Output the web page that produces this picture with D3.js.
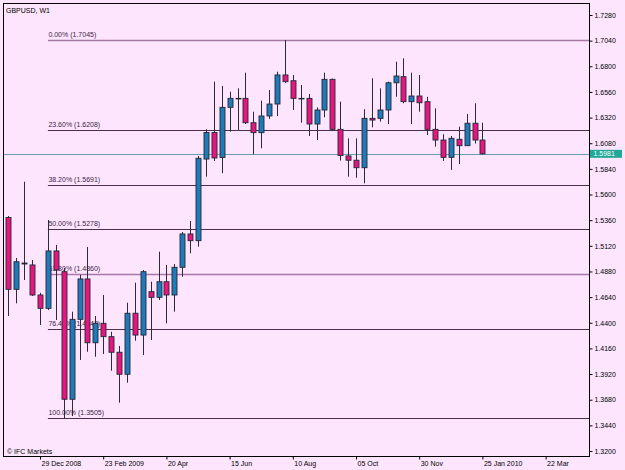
<!DOCTYPE html>
<html>
<head>
<meta charset="utf-8">
<script src="https://cdn.jsdelivr.net/npm/d3@7"></script>
<style>
  html, body { margin: 0; padding: 0; background: #fde6fd; }
  svg { display: block; font-family: "Liberation Sans", Arial, sans-serif; }
</style>
</head>
<body>
<svg></svg>
<script>
// weekly GBPUSD bars, first bar is the week of 1 Dec 2008
const firstWeek = "2008-12-01";

const openP = [1.5385,1.4713,1.4959,1.4941,1.4660,1.4535,1.5072,1.4878,1.3684,1.4432,
  1.4810,1.4213,1.4395,1.4270,1.4124,1.3918,1.4489,1.4285,1.4691,1.4638,
  1.4784,1.4660,1.4919,1.5231,1.5168,1.5932,1.6180,1.5947,1.6416,1.6500,
  1.6500,1.6272,1.6179,1.6335,1.6447,1.6719,1.6665,1.6500,1.6500,1.6260,
  1.6391,1.6678,1.6210,1.5961,1.5921,1.5851,1.6313,1.6313,1.6391,1.6646,
  1.6703,1.6469,1.6522,1.6469,1.6210,1.6110,1.5948,1.6117,1.6057,1.6267,
  1.6110];
const highP = [1.5399,1.5006,1.5720,1.4987,1.4680,1.5362,1.5128,1.4912,1.4504,1.4847,
  1.5109,1.4463,1.4660,1.4316,1.4183,1.4588,1.4775,1.4894,1.4784,1.5065,
  1.4941,1.4950,1.5249,1.5352,1.5961,1.6210,1.6656,1.6616,1.6562,1.6594,
  1.6740,1.6375,1.6478,1.6578,1.6749,1.7045,1.6719,1.6625,1.6541,1.6416,
  1.6740,1.6685,1.6469,1.6126,1.6126,1.6398,1.6688,1.6594,1.6656,1.6843,
  1.6875,1.6740,1.6719,1.6515,1.6407,1.6164,1.6148,1.6235,1.6354,1.6454,
  1.6272];
const lowP = [1.4463,1.4582,1.4800,1.4650,1.4379,1.4519,1.4426,1.3505,1.3527,1.4052,
  1.4129,1.4082,1.4108,1.3951,1.3652,1.3839,1.4232,1.4098,1.4239,1.4613,
  1.4395,1.4504,1.4831,1.5050,1.5112,1.5767,1.5914,1.5799,1.6188,1.6204,
  1.6260,1.5976,1.6033,1.6307,1.6335,1.6646,1.6391,1.6272,1.6148,1.6110,
  1.6323,1.6194,1.5918,1.5767,1.5757,1.5705,1.6229,1.6282,1.6260,1.6515,
  1.6454,1.6260,1.6375,1.6157,1.6048,1.5914,1.5830,1.5886,1.6054,1.6077,
  1.5976];
const closeP = [1.4713,1.4971,1.4950,1.4660,1.4535,1.5072,1.4894,1.3684,1.4432,1.4810,
  1.4213,1.4395,1.4270,1.4124,1.3918,1.4489,1.4285,1.4878,1.4638,1.4784,
  1.4660,1.4919,1.5231,1.5168,1.5939,1.6180,1.5942,1.6416,1.6500,1.6500,
  1.6272,1.6179,1.6335,1.6447,1.6719,1.6656,1.6500,1.6500,1.6260,1.6391,
  1.6678,1.6210,1.5965,1.5921,1.5851,1.6313,1.6297,1.6391,1.6646,1.6709,
  1.6469,1.6522,1.6459,1.6210,1.6110,1.5948,1.6126,1.6057,1.6267,1.6110,
  1.5981];

// fibonacci retracement
const fibRatios = ["0.00%","23.60%","38.20%","50.00%","61.80%","76.40%","100.00%"];
const fibLevels = [1.7045,1.6208,1.5691,1.5278,1.4860,1.4342,1.3505];
const fibStart = "2009-01-05";

const lastPrice = 1.5981;

const yTicks = [1.7280,1.7040,1.6800,1.6560,1.6320,1.6080,1.5840,1.5600,1.5360,
  1.5120,1.4880,1.4640,1.4400,1.4160,1.3920,1.3680,1.3440,1.3200];
const xTickDates = ["2008-12-29","2009-02-23","2009-04-20","2009-06-15","2009-08-10",
  "2009-10-05","2009-11-30","2010-01-25","2010-03-22"];
const xTickLabels = ["29 Dec 2008","23 Feb 2009","20 Apr","15 Jun","10 Aug",
  "05 Oct","30 Nov","25 Jan 2010","22 Mar"];

const parse = d3.timeParse("%Y-%m-%d");
const start = parse(firstWeek);
const bars = openP.map((o, i) => ({
  date: d3.timeMonday.offset(start, i),
  open: o, high: highP[i], low: lowP[i], close: closeP[i]
}));

const svg = d3.select("svg")
    .attr("width", 625)
    .attr("height", 470);

const frame = { left: 3.5, top: 3.5, right: 589.5, bottom: 456.5 };

const x = d3.scaleTime()
    .domain([start, parse("2010-03-22")])
    .range([8.4, 545.6]);

const y = d3.scaleLinear()
    .domain([1.3200, 1.7280])
    .range([451, 15]);

// background
svg.append("rect")
    .attr("width", 625).attr("height", 470)
    .attr("fill", "#fde6fd");

// fibonacci lines + labels (drawn under the candles)
const fibG = svg.append("g");
const fx = x(parse(fibStart));
fibLevels.forEach((lv, i) => {
  const light = i === 0 || i === 4;
  fibG.append("line")
      .attr("x1", fx).attr("x2", frame.right)
      .attr("y1", Math.round(y(lv)) + 0.5).attr("y2", Math.round(y(lv)) + 0.5)
      .attr("stroke", light ? "#a878a8" : "#4e2e4e")
      .attr("stroke-width", light ? 1.6 : 1);
  fibG.append("text")
      .attr("x", fx + 0.5)
      .attr("y", Math.round(y(lv)) - 3)
      .attr("font-size", 7)
      .attr("fill", "#3e2248")
      .text(`${fibRatios[i]} (${lv.toFixed(4)})`);
});

// last price line
svg.append("line")
    .attr("x1", frame.left).attr("x2", frame.right)
    .attr("y1", Math.round(y(lastPrice)) + 0.5).attr("y2", Math.round(y(lastPrice)) + 0.5)
    .attr("stroke", "#6a9fb0");

// candles
const bodyW = 5;
const candles = svg.append("g")
  .selectAll("g")
  .data(bars)
  .enter()
  .append("g");

candles.append("line")
    .attr("x1", d => Math.round(x(d.date)) + 0.5)
    .attr("x2", d => Math.round(x(d.date)) + 0.5)
    .attr("y1", d => y(d.high))
    .attr("y2", d => y(d.low))
    .attr("stroke", "#2b2b33");

candles.append("rect")
    .attr("x", d => Math.round(x(d.date)) - bodyW / 2 + 0.5)
    .attr("y", d => y(Math.max(d.open, d.close)))
    .attr("width", bodyW)
    .attr("height", d => Math.max(0.6, Math.abs(y(d.open) - y(d.close))))
    .attr("fill", d => d.close > d.open ? "#1f7ab6" : d.close < d.open ? "#e5177c" : "#2b2b33")
    .attr("stroke", "#23273a")
    .attr("stroke-width", 0.9);

// frame
svg.append("rect")
    .attr("x", frame.left).attr("y", frame.top)
    .attr("width", frame.right - frame.left)
    .attr("height", frame.bottom - frame.top)
    .attr("fill", "none")
    .attr("stroke", "#000");

// price axis
const yAxis = svg.append("g")
    .attr("transform", `translate(${frame.right},0)`)
    .call(d3.axisRight(y).tickValues(yTicks).tickFormat(d3.format(".4f")).tickSize(3).tickPadding(2));
yAxis.select(".domain").remove();
yAxis.selectAll("text").attr("font-size", 7).attr("font-family", null).attr("fill", "#000");

// last price tag
svg.append("rect")
    .attr("x", frame.right + 0.5).attr("y", y(lastPrice) - 4)
    .attr("width", 32).attr("height", 8)
    .attr("fill", "#22a898");
svg.append("text")
    .attr("x", frame.right + 4).attr("y", y(lastPrice) + 2.5)
    .attr("font-size", 7).attr("fill", "#fff")
    .text(lastPrice.toFixed(4));

// time axis
const xAxis = svg.append("g")
    .attr("transform", `translate(0,${frame.bottom})`)
    .call(d3.axisBottom(x)
      .tickValues(xTickDates.map(parse))
      .tickFormat((d, i) => xTickLabels[i])
      .tickSize(3).tickPadding(2));
xAxis.select(".domain").remove();
xAxis.selectAll("text")
    .attr("font-size", 7).attr("font-family", null).attr("fill", "#000")
    .attr("text-anchor", "start").attr("x", 1);

// captions
svg.append("text")
    .attr("x", 6).attr("y", 13)
    .attr("font-size", 7).attr("fill", "#000")
    .text("GBPUSD, W1");
svg.append("text")
    .attr("x", 7).attr("y", 453.5)
    .attr("font-size", 7).attr("fill", "#000")
    .text("© IFC Markets");
</script>
</body>
</html>
